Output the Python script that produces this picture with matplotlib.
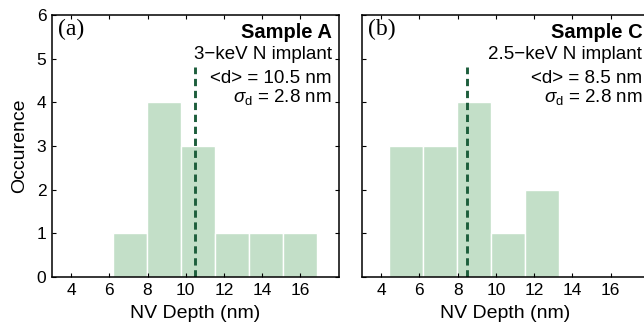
import numpy as np
import matplotlib
matplotlib.use("Agg")
import matplotlib.pyplot as plt

# data
edges_a = [6.2, 7.975, 9.75, 11.525, 13.3, 15.075, 16.85]
counts_a = [1, 4, 3, 1, 1, 1]
mean_a = 10.5

edges_b = [4.43, 6.205, 7.98, 9.755, 11.53, 13.305]
counts_b = [3, 3, 4, 1, 2]
mean_b = 8.5

labels_a = ["Sample A", "3\u2212keV N implant", "<d> = 10.5 nm", r"$\sigma_{\rm d}$ = 2.8 nm"]
labels_b = ["Sample C", "2.5\u2212keV N implant", "<d> = 8.5 nm", r"$\sigma_{\rm d}$ = 2.8 nm"]
xticks = [4, 6, 8, 10, 12, 14, 16]
yticks = [0, 1, 2, 3, 4, 5, 6]

plt.rcParams['font.family'] = ['Liberation Sans', 'DejaVu Sans']
plt.rcParams['mathtext.fontset'] = 'custom'
plt.rcParams['mathtext.rm'] = 'Liberation Sans'
plt.rcParams['mathtext.it'] = 'Liberation Sans:italic'

bar_col = "#c3dfc8"
line_col = "#1d5e3c"

W, H = 644, 324
fig = plt.figure(figsize=(W / 100, H / 100), dpi=100)
ax_a = fig.add_axes([52 / W, 47 / H, 286.5 / W, 262 / H])
ax_b = fig.add_axes([362 / W, 47 / H, 287 / W, 262 / H])


def draw(ax, edges, counts, mean, labels, tag, show_y):
    edges = np.array(edges)
    ax.bar(edges[:-1], counts, width=np.diff(edges), align="edge",
           color=bar_col, edgecolor="white", linewidth=1.0)
    ax.plot([mean, mean], [0, 4.8], color=line_col, lw=2.1, ls=(0, (2.5, 1.6)))
    ax.set_xlim(3, 18)
    ax.set_ylim(0, 6)
    ax.set_xticks(xticks)
    ax.set_yticks(yticks)
    ax.tick_params(direction="in", length=3, width=0.8, top=True, right=True,
                   labelsize=12.5, pad=4)
    if not show_y:
        ax.set_yticklabels([])
    else:
        ax.set_ylabel("Occurence", fontsize=14, labelpad=6)
    ax.set_xlabel("NV Depth (nm)", fontsize=14, labelpad=5)
    for s in ax.spines.values():
        s.set_linewidth(1.1)
    ax.text(0.02, 0.985, tag, transform=ax.transAxes, ha="left", va="top",
            fontsize=17, family="Liberation Serif")
    ys = [5.48, 4.99, 4.45, 4.01]
    for i, (t, y) in enumerate(zip(labels, ys)):
        ax.text(17.65, y, t, ha="right", va="baseline",
                fontsize=14.5 if i == 0 else 13.5,
                fontweight="bold" if i == 0 else "normal")


draw(ax_a, edges_a, counts_a, mean_a, labels_a, "(a)", True)
draw(ax_b, edges_b, counts_b, mean_b, labels_b, "(b)", False)

fig.savefig("out.png", dpi=100)
